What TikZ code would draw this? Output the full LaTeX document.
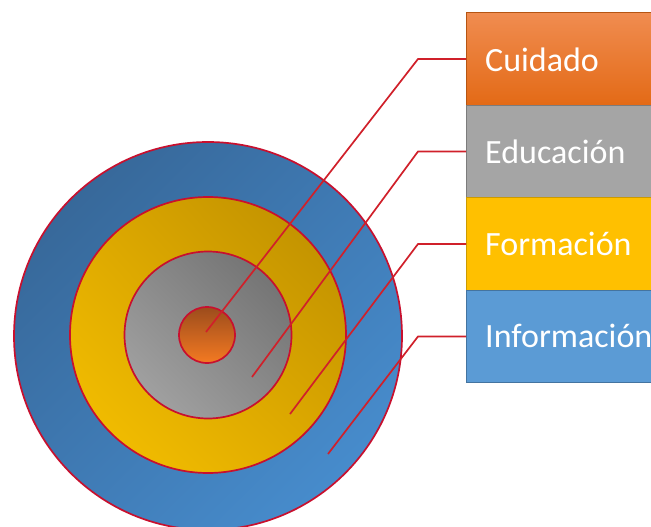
\documentclass[tikz,border=0pt]{standalone}
\usepackage{fontspec}
\setmainfont{Carlito}
\usetikzlibrary{shadings}
\definecolor{ringred}{HTML}{C8102E}
\definecolor{lead}{HTML}{D0202A}
\definecolor{bdark}{HTML}{34618F}
\definecolor{bmid}{HTML}{3F7AB4}
\definecolor{blight}{HTML}{4A93D6}
\definecolor{ydark}{HTML}{BA8C00}
\definecolor{ymid}{HTML}{DDA800}
\definecolor{ylight}{HTML}{F8C300}
\definecolor{gdark}{HTML}{6C6C6C}
\definecolor{gmid}{HTML}{8A8A8A}
\definecolor{glight}{HTML}{A9A9A9}
\definecolor{odark}{HTML}{9C4C1C}
\definecolor{olight}{HTML}{F47A22}
\definecolor{boxorangeT}{HTML}{F08C50}
\definecolor{boxorangeB}{HTML}{E36A16}
\definecolor{boxgray}{HTML}{A5A5A5}
\definecolor{boxyellow}{HTML}{FFC000}
\definecolor{boxblue}{HTML}{5B9BD5}
\tikzset{
  ring/.style={draw=ringred, line width=1.7pt},
  leader/.style={draw=lead, line width=1.7pt},
  labelbox/.style={rectangle, anchor=west, minimum width=200pt, minimum height=92.5pt,
     inner sep=0pt, line width=0.8pt},
  boxtext/.style={anchor=base west, inner sep=0pt, text=white,
     font=\fontsize{34}{38}\selectfont},
}
\begin{document}
\begin{tikzpicture}[x=1pt,y=-1pt]
\useasboundingbox (0,0) rectangle (651,527);
% target rings
\shade[ring, upper left=bdark, upper right=bmid, lower left=bmid, lower right=blight] (208,336) circle[radius=194];
\shade[ring, upper left=ymid, upper right=ydark, lower left=ylight, lower right=ymid] (208,335) circle[radius=138];
\shade[ring, upper left=gmid, upper right=gdark, lower left=glight, lower right=gmid] (208,335) circle[radius=83.5];
\shade[ring, top color=odark, bottom color=olight] (207,335) circle[radius=28];
% boxes
\node[labelbox, top color=boxorangeT, bottom color=boxorangeB, draw=boxorangeB!80!black] (cui) at (466,59) {};
\node[labelbox, fill=boxgray, draw=boxgray!75!black] (edu) at (466,151.5) {};
\node[labelbox, fill=boxyellow, draw=boxyellow!80!black] (for) at (466,244) {};
\node[labelbox, fill=boxblue, draw=boxblue!75!black] (inf) at (466,336.5) {};
\node[boxtext] (cuit) at (485,71) {Cuidado};
\node[boxtext] (edut) at (485,163) {Educación};
\node[boxtext] (fort) at (485,255) {Formación};
\node[boxtext] (inft) at (485,347) {Información};
% leader points
\coordinate (c1) at (418,59);
\coordinate (e1) at (206,332);
\coordinate (c2) at (418,151.5);
\coordinate (e2) at (252,377);
\coordinate (c3) at (418,244);
\coordinate (e3) at (290,414);
\coordinate (c4) at (418,336.5);
\coordinate (e4) at (328,454);
\draw[leader] (cui.west) -- (c1) -- (e1);
\draw[leader] (edu.west) -- (c2) -- (e2);
\draw[leader] (for.west) -- (c3) -- (e3);
\draw[leader] (inf.west) -- (c4) -- (e4);
\end{tikzpicture}
\end{document}
